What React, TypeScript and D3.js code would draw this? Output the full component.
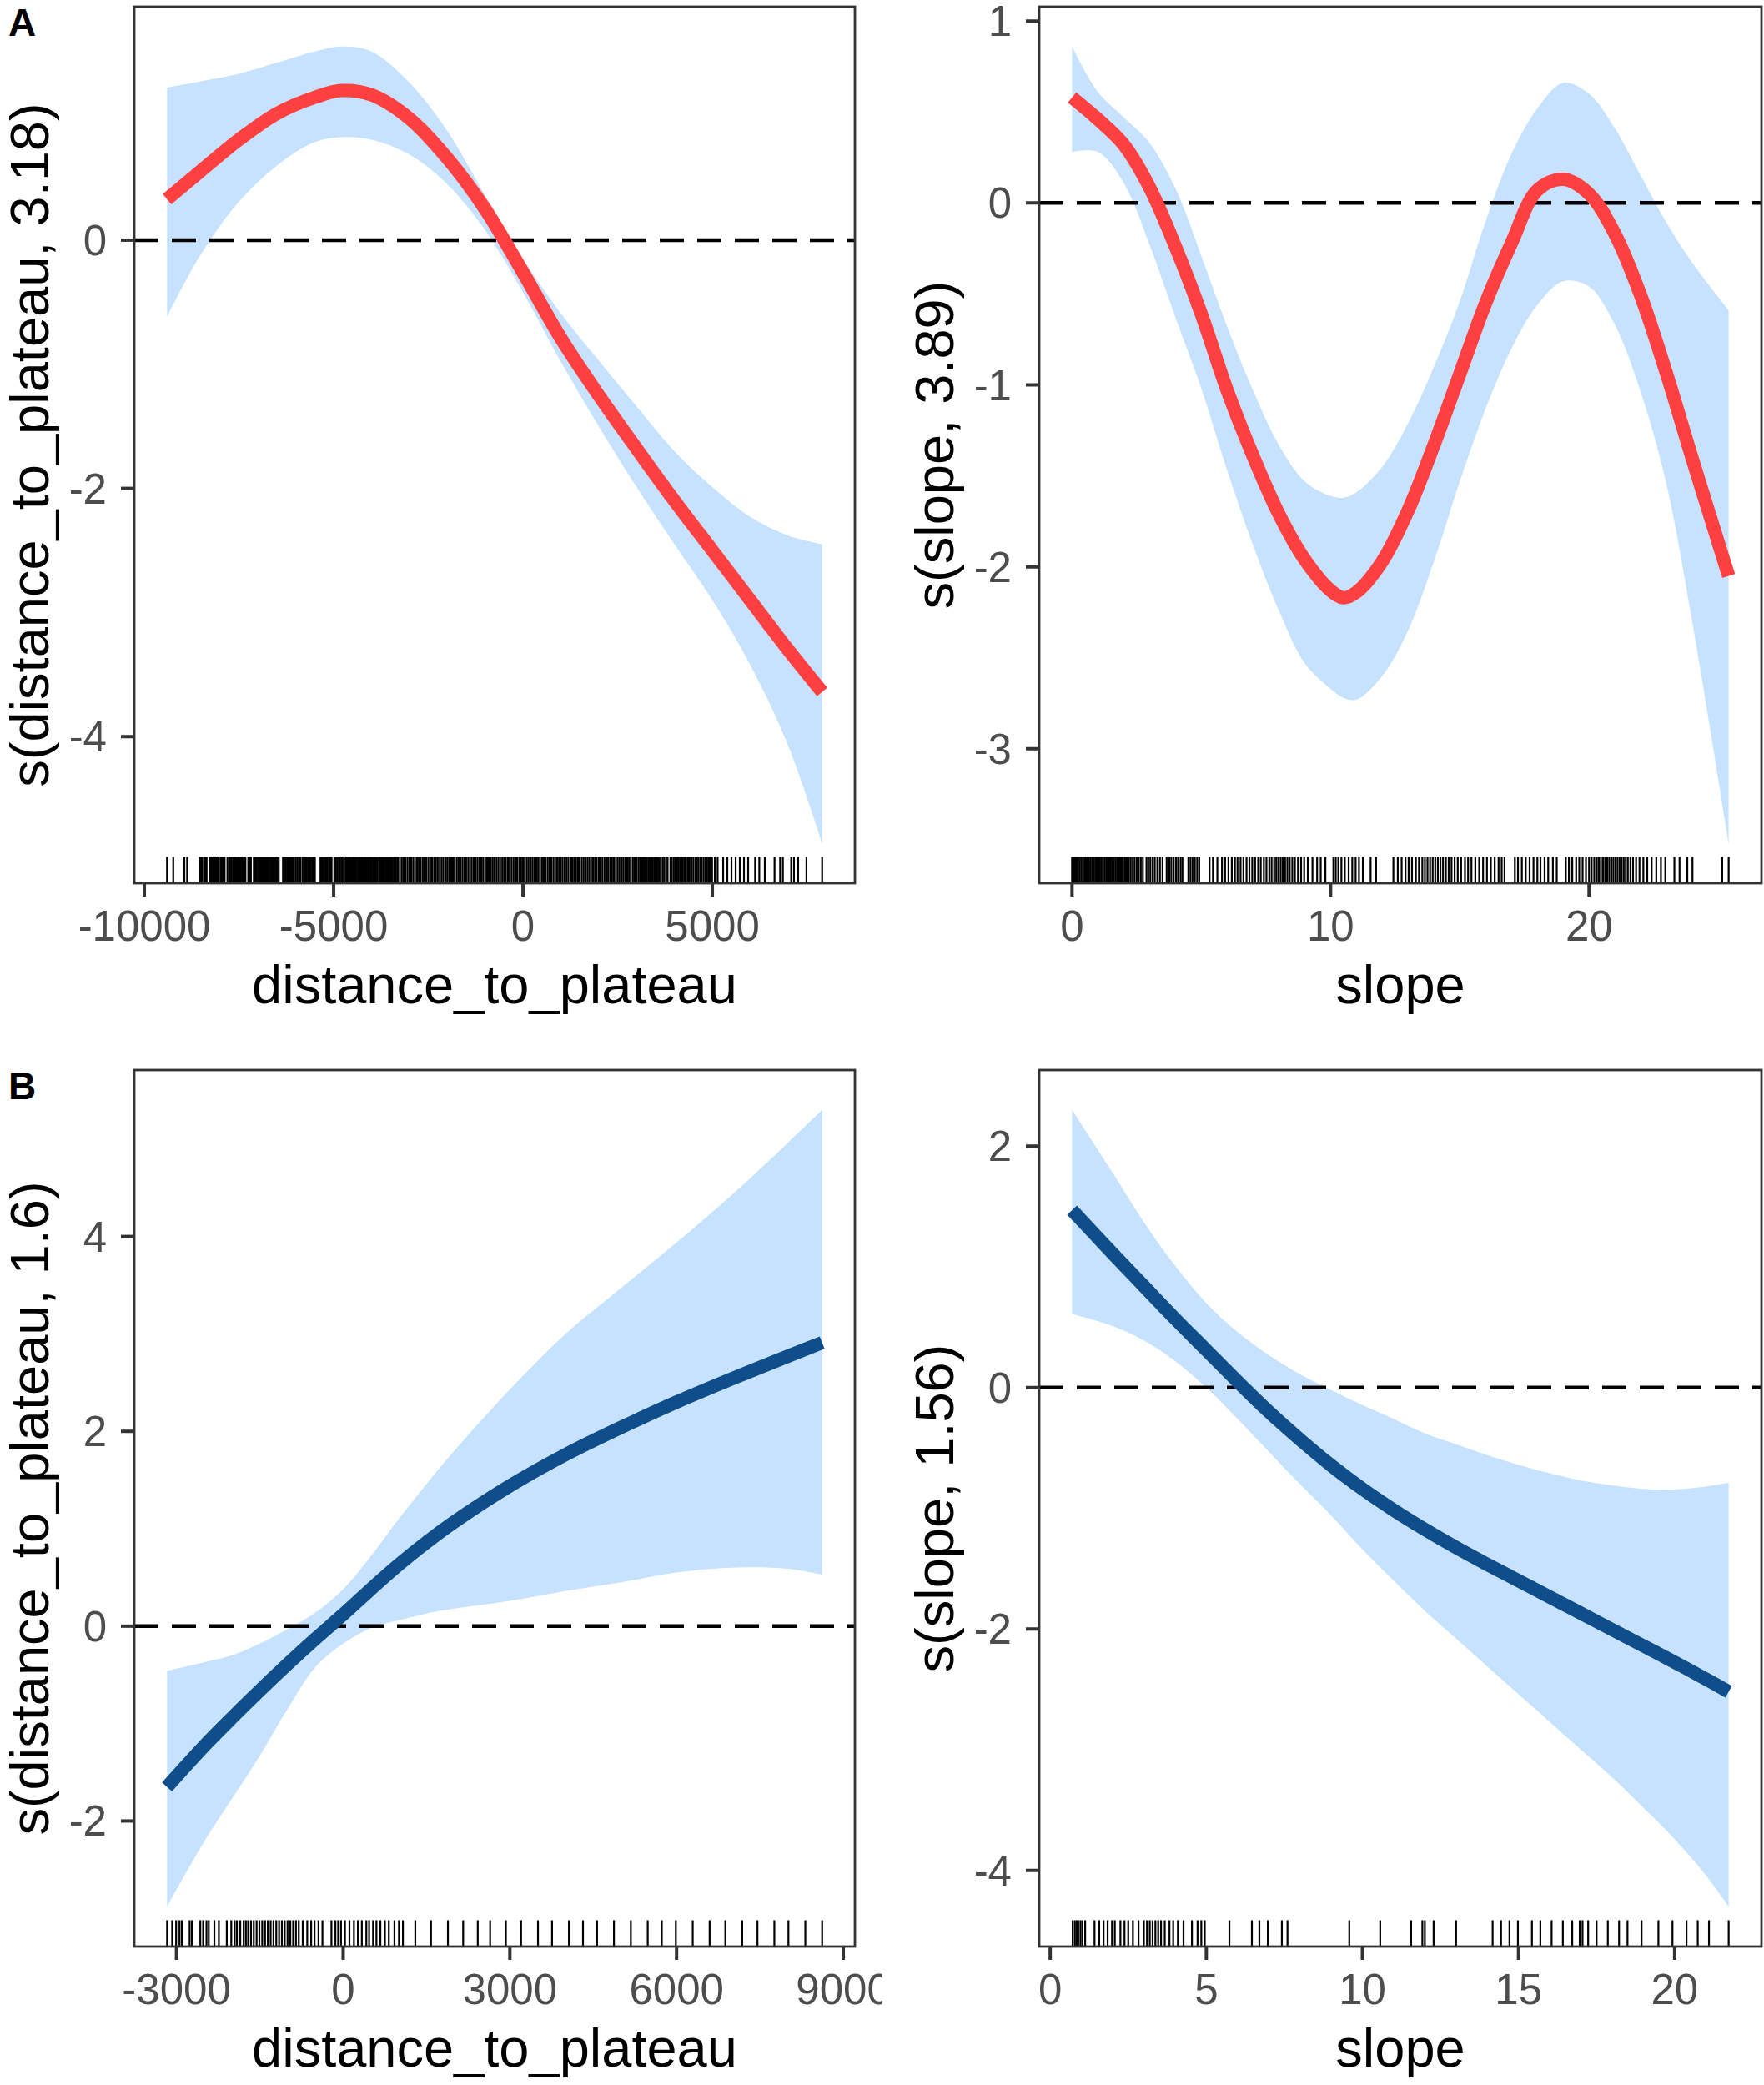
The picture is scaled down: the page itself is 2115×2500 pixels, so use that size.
import React, { useEffect, useRef } from "react";
import * as d3 from "d3";

const W = 2115;
const H = 2500;
const FONT = "'Liberation Sans', Arial, Helvetica, sans-serif";

// ---- A, distance_to_plateau ----
const distA_x = [-9400, -8500, -7500, -6500, -5500, -4800, -4000, -3000, -2000, -1000, 0, 1000, 2000, 3000, 4000, 5000, 6000, 7000, 7900];
const distA_fit = [0.33, 0.56, 0.81, 1.02, 1.15, 1.205, 1.17, 0.98, 0.66, 0.25, -0.26, -0.79, -1.25, -1.68, -2.1, -2.5, -2.9, -3.3, -3.64];
const distA_upper = [1.23, 1.28, 1.34, 1.43, 1.52, 1.56, 1.52, 1.27, 0.88, 0.36, -0.15, -0.59, -0.97, -1.34, -1.7, -1.99, -2.23, -2.38, -2.45];
const distA_lower = [-0.62, -0.11, 0.31, 0.6, 0.79, 0.83, 0.81, 0.69, 0.45, 0.08, -0.42, -0.98, -1.5, -1.99, -2.45, -2.9, -3.42, -4.07, -4.86];
const distA_rug = [
  -9400, -9235, -8942, -8869,
  -8540, -8500, -8470, -8420, -8390, -8355,
  -8280, -8240, -8200, -8170, -8130, -8100, -8062,
  -7990, -7950, -7910, -7880,
  -7805, -7760, -7730, -7695,
  -7658, -7630, -7600, -7575, -7540, -7510, -7480, -7450, -7420, -7390, -7360, -7330,
  -7255, -7220, -7185,
  -7108, -7070, -7035,
  -6998, -6960, -6920, -6888,
  -6850, -6810, -6780, -6742,
  -6705, -6670, -6630, -6600, -6560, -6520, -6490, -6450,
  -6338, -6300, -6260, -6220, -6190, -6150, -6120, -6082,
  -6045, -6000, -5960, -5920, -5880, -5825,
  -5788, -5750, -5710, -5670, -5640, -5600, -5560, -5530, -5495,
  -5348, -5310, -5270, -5230, -5200, -5160, -5120, -5090, -5055,
  -4982, -4940, -4900, -4860, -4830, -4790, -4762,
  -4688, -4650, -4610, -4580, -4540, -4500, -4470, -4430, -4395,
  -4358, -4320, -4280, -4250, -4210, -4170, -4140, -4100, -4060, -4028,
  -3991, -3950, -3920, -3880, -3840, -3800, -3770, -3730, -3700, -3661,
  -3625, -3590, -3550, -3510, -3480, -3441,
  -3400, -3352, -3305, -3251, -3200, -3148, -3102, -3050, -2998, -2953, -2900, -2851, -2797, -2750, -2702, -2648,
  -2600, -2553, -2499, -2450, -2403, -2348, -2300, -2252, -2198, -2150, -2104, -2049, -2000, -1952, -1897, -1850,
  -1803, -1748, -1700, -1651, -1599, -1550, -1502, -1447, -1400, -1353, -1298, -1250, -1201, -1149, -1100, -1052,
  -998, -950, -903, -848, -800, -751, -699, -650, -602, -547, -500, -452, -398, -350, -301, -249, -200, -153, -98, -50,
  -2, 48, 100, 147, 201, 250, 298, 353, 400, 449, 502, 550, 597, 652, 700, 748, 803, 850, 899, 951, 1000, 1047,
  1102, 1150, 1198, 1253, 1300, 1349, 1401, 1450, 1497, 1552, 1600, 1648, 1703, 1750, 1799, 1851, 1900, 1947,
  2002, 2050, 2098, 2153, 2200, 2249, 2301, 2350, 2397, 2452, 2500, 2548, 2603, 2650, 2699, 2751, 2800, 2847,
  2902, 2950, 3000,
  3050, 3090, 3130, 3170, 3200, 3233,
  3270, 3310, 3350, 3390, 3430, 3470, 3500, 3526,
  3563, 3600, 3640, 3690, 3730, 3780, 3819,
  3893, 3930, 3980, 4020, 4070, 4110, 4150, 4186,
  4223, 4270, 4310, 4360, 4400, 4450, 4500, 4553,
  4589, 4630, 4680, 4720, 4770, 4820, 4860, 4900, 4930, 4960, 4993,
  5066, 5140, 5286, 5396, 5506, 5616, 5726, 5836, 5946, 6130, 6240, 6386, 6643, 6790, 6863, 7083, 7156, 7266, 7486, 7900,
];

// ---- A, slope ----
const slopeA_x = [0, 1, 2, 3, 4, 5, 6, 7, 8, 9, 10, 10.5, 11, 12, 13, 14, 15, 16, 17, 18, 19, 20, 21, 22, 23, 24, 25.4];
const slopeA_fit = [0.58, 0.46, 0.32, 0.085, -0.24, -0.61, -1.03, -1.39, -1.71, -1.96, -2.13, -2.17, -2.14, -1.97, -1.69, -1.33, -0.94, -0.55, -0.22, 0.07, 0.13, 0.05, -0.17, -0.51, -0.94, -1.41, -2.05];
const slopeA_upper = [0.86, 0.61, 0.47, 0.33, 0.08, -0.29, -0.68, -1.03, -1.33, -1.53, -1.61, -1.62, -1.59, -1.45, -1.21, -0.9, -0.54, -0.1, 0.27, 0.52, 0.66, 0.6, 0.41, 0.15, -0.11, -0.33, -0.59];
const slopeA_lower = [0.28, 0.28, 0.11, -0.23, -0.63, -1.02, -1.47, -1.88, -2.24, -2.53, -2.67, -2.72, -2.73, -2.6, -2.35, -1.97, -1.53, -1.13, -0.8, -0.56, -0.43, -0.46, -0.67, -1.04, -1.55, -2.31, -3.52];
const slopeA_rug = [
  0, 0.06, 0.12, 0.18, 0.24, 0.3, 0.36, 0.42, 0.48, 0.54, 0.6, 0.66, 0.72, 0.78, 0.84, 0.9, 0.96, 1.02, 1.08, 1.14,
  1.2, 1.26, 1.32, 1.38, 1.44, 1.5, 1.56, 1.62, 1.68, 1.74, 1.8, 1.86, 1.92, 1.98,
  2.05, 2.12, 2.2, 2.27, 2.35, 2.42, 2.5, 2.58, 2.66, 2.74, 2.88, 2.95, 3.03, 3.12, 3.2, 3.3, 3.4, 3.5,
  3.66, 3.76, 3.84, 3.93, 4.02, 4.1, 4.2, 4.27,
  4.5, 4.58, 4.66, 4.75, 4.84, 4.92,
  5.32, 5.45, 5.62, 5.8, 5.92, 6.05, 6.18, 6.3, 6.4, 6.52, 6.63, 6.75, 6.86, 6.97, 7.08, 7.2, 7.3, 7.42, 7.52, 7.63,
  7.72, 7.82, 7.9, 7.98, 8.07, 8.15, 8.24, 8.33, 8.42, 8.52, 8.62, 8.74, 8.86, 8.98, 9.12, 9.3, 9.48, 9.62, 9.8,
  10.11, 10.2, 10.3, 10.42, 10.55, 10.7, 10.84, 10.97, 11.1, 11.25, 11.55, 11.76,
  12.43, 12.6, 12.75, 12.9, 13.02, 13.15, 13.3, 13.42, 13.55, 13.65, 13.75, 13.85, 13.95, 14.05, 14.15, 14.25,
  14.35, 14.46, 14.57, 14.68, 14.8, 14.92, 15.05, 15.2, 15.32, 15.45, 15.6, 15.75, 15.9, 16.05, 16.2, 16.35, 16.5, 16.62, 16.73,
  17.13, 17.25, 17.4, 17.55, 17.7, 17.85, 18.0, 18.12, 18.28, 18.42, 18.6, 18.75,
  19.1, 19.22, 19.35, 19.5, 19.62, 19.75, 19.88, 20.0, 20.1, 20.2, 20.3, 20.38, 20.46, 20.54, 20.62, 20.7, 20.78,
  20.86, 20.94, 21.02, 21.1, 21.18, 21.26, 21.34, 21.42, 21.5, 21.6, 21.7, 21.82, 21.95, 22.1, 22.25, 22.42, 22.6,
  22.78, 22.95, 23.3, 23.5, 23.8, 24.0,
  25.15, 25.4,
];

// ---- B, distance_to_plateau ----
const distB_x = [-3170, -2500, -2000, -1500, -1000, -500, 0, 500, 1000, 1500, 2000, 3000, 4000, 5000, 6000, 7000, 8000, 8620];
const distB_fit = [-1.65, -1.23, -0.94, -0.66, -0.39, -0.13, 0.12, 0.38, 0.63, 0.86, 1.07, 1.44, 1.76, 2.04, 2.3, 2.54, 2.77, 2.91];
const distB_upper = [-0.46, -0.37, -0.3, -0.18, -0.03, 0.14, 0.38, 0.72, 1.1, 1.46, 1.8, 2.43, 3.0, 3.47, 3.94, 4.43, 4.96, 5.3];
const distB_lower = [-2.88, -2.21, -1.77, -1.33, -0.85, -0.42, -0.18, -0.02, 0.06, 0.13, 0.18, 0.26, 0.36, 0.45, 0.55, 0.6, 0.59, 0.53];
const distB_rug = [
  -3169, -3077, -3006, -2946, -2905, -2763, -2723, -2571, -2520, -2460, -2419, -2318, -2237, -2095, -2014, -1953,
  -1913, -1852, -1791, -1751, -1710, -1659, -1609, -1558, -1508, -1457, -1406, -1356, -1305, -1254, -1204, -1153,
  -1103, -1052, -1001, -951, -900, -850, -799, -728, -647, -576, -515, -444, -373, -211, -140, -90, -39, 32, 113,
  194, 265, 336, 417, 467, 538, 599, 670, 751, 822, 923, 1004, 1075, 1298, 1581, 1885, 2159, 2422, 2645, 2928,
  3202, 3506, 3759, 4063, 4316, 4569, 4873, 5177, 5481, 5734, 5987, 6291, 6595, 6878, 7182, 7456, 7760, 8013, 8317, 8620,
];

// ---- B, slope ----
const slopeB_x = [0.7, 2, 3, 4, 5, 6, 7, 8, 9, 10, 11, 12, 13, 14, 15, 16, 17, 18, 19, 20, 21, 21.73];
const slopeB_fit = [1.47, 1.11, 0.84, 0.57, 0.31, 0.05, -0.2, -0.43, -0.645, -0.84, -1.015, -1.175, -1.325, -1.465, -1.6, -1.735, -1.87, -2.005, -2.14, -2.275, -2.415, -2.52];
const slopeB_upper = [2.3, 1.78, 1.37, 1.01, 0.7, 0.46, 0.27, 0.11, -0.02, -0.145, -0.26, -0.38, -0.47, -0.56, -0.64, -0.71, -0.77, -0.81, -0.84, -0.845, -0.82, -0.79];
const slopeB_lower = [0.61, 0.51, 0.39, 0.22, 0.0, -0.26, -0.53, -0.8, -1.06, -1.34, -1.6, -1.85, -2.08, -2.31, -2.54, -2.77, -3.0, -3.23, -3.48, -3.74, -4.04, -4.3];
const slopeB_rug = [
  0.72, 0.79, 0.85, 0.9, 0.97, 1.03, 1.12, 1.42, 1.57, 1.71, 1.84, 1.98, 2.07, 2.25, 2.38, 2.5, 2.65, 2.83, 3.0, 3.1,
  3.19, 3.28, 3.37, 3.46, 3.55, 3.67, 3.82, 3.94, 4.09, 4.27, 4.54, 4.72, 4.84, 4.95, 5.74, 6.46, 6.7, 6.97, 7.42,
  7.6, 9.58, 10.57, 11.56, 11.92, 12.0, 12.28, 13.0, 14.17, 14.44, 14.71, 14.98, 15.43, 15.7, 16.06, 16.42, 16.72,
  16.96, 17.05, 17.23, 17.5, 17.86, 18.22, 18.49, 18.94, 19.48, 19.93, 20.38, 20.74, 21.1, 21.73,
];

// tick labels
const distA_xTicks = [-10000, -5000, 0, 5000];
const distA_yTicks = [-4, -2, 0];
const slopeA_xTicks = [0, 10, 20];
const slopeA_yTicks = [-3, -2, -1, 0, 1];
const distB_xTicks = [-3000, 0, 3000, 6000, 9000];
const distB_yTicks = [-2, 0, 2, 4];
const slopeB_xTicks = [0, 5, 10, 15, 20];
const slopeB_yTicks = [-4, -2, 0, 2];

// ggplot-like 5% expansion
function expand(vals: number[]) {
  const [lo, hi] = d3.extent(vals) as [number, number];
  const pad = (hi - lo) * 0.05;
  return [lo - pad, hi + pad];
}

function drawPanel(svg: any, p: any) {
  const g = svg.append("g").attr("clip-path", "url(#" + p.clip + ")");

  const x = d3.scaleLinear().domain(expand(p.xs.concat(p.rug))).range([p.left, p.right]);
  const y = d3.scaleLinear().domain(expand(p.lower.concat(p.upper))).range([p.bottom, p.top]);

  const rows = p.xs.map((v: number, i: number) => ({ x: v, fit: p.fit[i], lo: p.lower[i], hi: p.upper[i] }));
  const curve = d3.curveCatmullRom.alpha(0.5);

  // confidence band
  const area = d3
    .area<any>()
    .x((d) => x(d.x))
    .y0((d) => y(d.lo))
    .y1((d) => y(d.hi))
    .curve(curve);
  g.append("path").datum(rows).attr("d", area).attr("fill", "#C6E2FF");

  // zero reference
  g.append("line")
    .attr("x1", p.left)
    .attr("x2", p.right)
    .attr("y1", y(0))
    .attr("y2", y(0))
    .attr("stroke", "#000")
    .attr("stroke-width", 4.5)
    .attr("stroke-dasharray", "29 16");

  // fitted smooth
  const line = d3
    .line<any>()
    .x((d) => x(d.x))
    .y((d) => y(d.fit))
    .curve(curve);
  g.append("path")
    .datum(rows)
    .attr("d", line)
    .attr("fill", "none")
    .attr("stroke", p.color)
    .attr("stroke-width", 16)
    .attr("stroke-linejoin", "round");

  // rug
  const rugLen = (p.bottom - p.top) * 0.03;
  g.selectAll(null)
    .data(p.rug)
    .enter()
    .append("line")
    .attr("x1", (d: number) => x(d))
    .attr("x2", (d: number) => x(d))
    .attr("y1", p.bottom)
    .attr("y2", p.bottom - rugLen)
    .attr("stroke", "#000")
    .attr("stroke-width", 2.2);

  // panel border
  g.append("rect")
    .attr("x", p.left)
    .attr("y", p.top)
    .attr("width", p.right - p.left)
    .attr("height", p.bottom - p.top)
    .attr("fill", "none")
    .attr("stroke", "#333333")
    .attr("stroke-width", 2.8);

  // y axis
  p.yTicks.forEach((t: number) => {
    g.append("line")
      .attr("x1", p.left - 16)
      .attr("x2", p.left)
      .attr("y1", y(t))
      .attr("y2", y(t))
      .attr("stroke", "#333333")
      .attr("stroke-width", 4);
    g.append("text")
      .attr("x", p.left - 33)
      .attr("y", y(t) + 18)
      .attr("text-anchor", "end")
      .attr("font-family", FONT)
      .attr("font-size", 51)
      .attr("fill", "#4D4D4D")
      .text(String(t));
  });

  // x axis
  p.xTicks.forEach((t: number) => {
    g.append("line")
      .attr("x1", x(t))
      .attr("x2", x(t))
      .attr("y1", p.bottom)
      .attr("y2", p.bottom + 16)
      .attr("stroke", "#333333")
      .attr("stroke-width", 4);
    g.append("text")
      .attr("x", x(t))
      .attr("y", p.bottom + 69)
      .attr("text-anchor", "middle")
      .attr("font-family", FONT)
      .attr("font-size", 51)
      .attr("fill", "#4D4D4D")
      .text(String(t));
  });

  // titles
  g.append("text")
    .attr("x", (p.left + p.right) / 2)
    .attr("y", p.bottom + 144)
    .attr("text-anchor", "middle")
    .attr("font-family", FONT)
    .attr("font-size", 65)
    .attr("fill", "#000")
    .text(p.xTitle);

  g.append("text")
    .attr("transform", "translate(" + (p.left - 103) + "," + (p.top + p.bottom) / 2 + ") rotate(-90)")
    .attr("text-anchor", "middle")
    .attr("font-family", FONT)
    .attr("font-size", 65)
    .attr("fill", "#000")
    .text(p.yTitle);
}

export default function App() {
  const ref = useRef<SVGSVGElement>(null);

  useEffect(() => {
    const svg = d3.select(ref.current);
    svg.selectAll("*").remove();

    svg.append("rect").attr("width", W).attr("height", H).attr("fill", "#fff");

    const defs = svg.append("defs");
    defs.append("clipPath").attr("id", "colL").append("rect").attr("x", 0).attr("y", 0).attr("width", W / 2).attr("height", H);
    defs.append("clipPath").attr("id", "colR").append("rect").attr("x", W / 2).attr("y", 0).attr("width", W / 2).attr("height", H);

    const red = "#FF4040";
    const navy = "#104E8B";

    drawPanel(svg, {
      clip: "colL", left: 161, right: 1025, top: 8, bottom: 1059,
      xs: distA_x, fit: distA_fit, upper: distA_upper, lower: distA_lower, rug: distA_rug,
      xTicks: distA_xTicks, yTicks: distA_yTicks, color: red,
      xTitle: "distance_to_plateau", yTitle: "s(distance_to_plateau, 3.18)",
    });
    drawPanel(svg, {
      clip: "colR", left: 1246, right: 2112, top: 8, bottom: 1059,
      xs: slopeA_x, fit: slopeA_fit, upper: slopeA_upper, lower: slopeA_lower, rug: slopeA_rug,
      xTicks: slopeA_xTicks, yTicks: slopeA_yTicks, color: red,
      xTitle: "slope", yTitle: "s(slope, 3.89)",
    });
    drawPanel(svg, {
      clip: "colL", left: 161, right: 1025, top: 1283, bottom: 2334,
      xs: distB_x, fit: distB_fit, upper: distB_upper, lower: distB_lower, rug: distB_rug,
      xTicks: distB_xTicks, yTicks: distB_yTicks, color: navy,
      xTitle: "distance_to_plateau", yTitle: "s(distance_to_plateau, 1.6)",
    });
    drawPanel(svg, {
      clip: "colR", left: 1246, right: 2112, top: 1283, bottom: 2334,
      xs: slopeB_x, fit: slopeB_fit, upper: slopeB_upper, lower: slopeB_lower, rug: slopeB_rug,
      xTicks: slopeB_xTicks, yTicks: slopeB_yTicks, color: navy,
      xTitle: "slope", yTitle: "s(slope, 1.56)",
    });

    // panel tags
    [["A", 43], ["B", 1318]].forEach(([t, yy]) => {
      svg.append("text")
        .attr("x", 10)
        .attr("y", yy as number)
        .attr("font-family", FONT)
        .attr("font-weight", "bold")
        .attr("font-size", 46)
        .attr("fill", "#000")
        .text(t as string);
    });
  }, []);

  return (
    <svg
      ref={ref}
      width={W}
      height={H}
      style={{ position: "absolute", left: 0, top: 0, display: "block" }}
    />
  );
}
